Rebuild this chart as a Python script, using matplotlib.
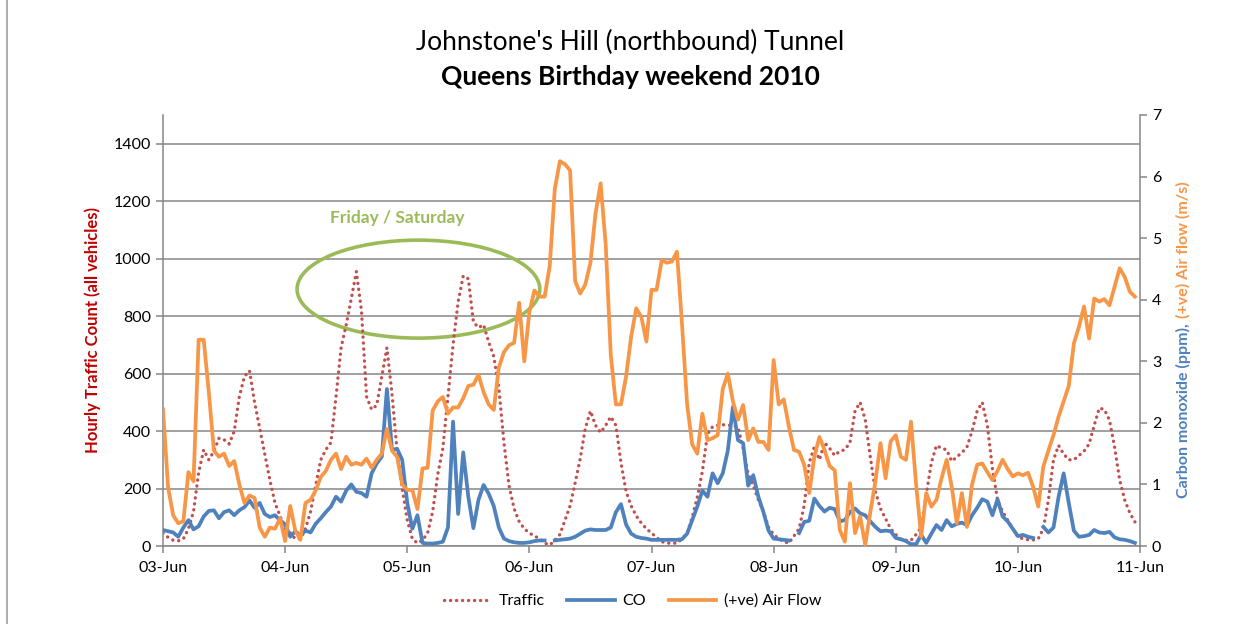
import matplotlib
matplotlib.use("Agg")
import matplotlib.pyplot as plt
import matplotlib.dates as mdates
from matplotlib.patches import Ellipse
from matplotlib.lines import Line2D
import numpy as np
import pandas as pd

nan = np.nan

# hourly readings, 03-Jun 00:00 .. 11-Jun 00:00
times = pd.date_range("2010-06-03", periods=193, freq="h")

traffic = [
    45, 30, 20, 18, 25, 60, 120, 255, 335, 300, 330, 375, 370, 355, 400, 520, 590, 610, 500, 410, 320, 230, 150, 105,
    60, 45, 25, 25, 60, 120, 210, 300, 335, 360, 520, 690, 770, 860, 955, 820, 520, 475, 490, 590, 690, 530, 330, 200,
    90, 25, 10, 20, 45, 120, 250, 340, 520, 700, 850, 940, 930, 780, 760, 770, 710, 660, 550, 360, 210, 130, 85, 60,
    45, 35, 25, 10, 3, 20, 40, 90, 140, 220, 305, 410, 470, 420, 395, 420, 450, 420, 290, 190, 140, 105, 80, 60,
    45, 30, 15, 10, 10, 10, 25, 45, 100, 170, 260, 390, 415, 420, 422, 421, 418, 414, 340, 250, 210, 160, 120, 65,
    40, 25, 15, 10, 35, 60, 140, 290, 345, 300, 360, 340, 315, 330, 335, 360, 470, 500, 440, 310, 190, 130, 95, 60,
    40, 22, 20, 20, 40, 65, 180, 290, 350, 340, 335, 295, 310, 325, 345, 400, 470, 500, 420, 270, 160, 120, 90, 60,
    32, 25, 22, 21, 25, 60, 160, 300, 350, 320, 300, 300, 315, 330, 355, 420, 480, 475, 438, 345, 230, 160, 115, 84,
    nan,
]

co = [
    0.26, 0.24, 0.22, 0.15, 0.30, 0.42, 0.27, 0.32, 0.48, 0.57, 0.58, 0.45, 0.55, 0.58, 0.50, 0.58, 0.63, 0.74, 0.62, 0.70, 0.52, 0.47, 0.50, 0.42,
    0.35, 0.15, 0.24, 0.17, 0.25, 0.22, 0.36, 0.45, 0.55, 0.64, 0.80, 0.72, 0.90, 1.00, 0.88, 0.86, 0.80, 1.18, 1.34, 1.45, 2.55, 1.56, 1.58, 1.40,
    0.70, 0.28, 0.50, 0.05, 0.04, 0.04, 0.05, 0.07, 0.30, 2.02, 0.52, 1.52, 0.80, 0.29, 0.75, 0.99, 0.85, 0.65, 0.30, 0.12, 0.08, 0.06, 0.05, 0.05,
    0.06, 0.08, 0.09, 0.09, nan, 0.09, 0.10, 0.11, 0.12, 0.15, 0.20, 0.25, 0.27, 0.26, 0.26, 0.26, 0.30, 0.55, 0.68, 0.35, 0.20, 0.15, 0.13, 0.12,
    0.10, 0.10, 0.10, 0.10, 0.10, 0.10, 0.11, 0.20, 0.42, 0.64, 0.90, 0.80, 1.18, 1.02, 1.18, 1.55, 2.26, 1.72, 1.67, 0.98, 1.15, 0.80, 0.55, 0.25,
    0.12, 0.11, 0.10, 0.09, nan, 0.21, 0.39, 0.41, 0.77, 0.65, 0.56, 0.62, 0.60, 0.40, 0.42, 0.55, 0.61, 0.53, 0.50, 0.40, 0.31, 0.24, 0.25, 0.24,
    0.13, 0.11, 0.08, 0.03, 0.03, 0.18, 0.05, 0.20, 0.34, 0.26, 0.42, 0.32, 0.36, 0.38, 0.34, 0.50, 0.62, 0.76, 0.72, 0.50, 0.76, 0.48, 0.40, 0.28,
    0.16, 0.18, 0.15, 0.13, nan, 0.31, 0.22, 0.30, 0.80, 1.18, 0.70, 0.25, 0.15, 0.16, 0.18, 0.26, 0.22, 0.21, 0.23, 0.14, 0.11, 0.10, 0.08, 0.05,
    nan,
]

airflow = [
    2.22, 0.95, 0.50, 0.37, 0.40, 1.20, 1.05, 3.35, 3.35, 2.50, 1.55, 1.45, 1.50, 1.30, 1.38, 1.00, 0.70, 0.82, 0.78, 0.30, 0.15, 0.30, 0.28, 0.45,
    0.08, 0.65, 0.25, 0.10, 0.70, 0.75, 0.90, 1.12, 1.22, 1.40, 1.50, 1.25, 1.45, 1.32, 1.35, 1.32, 1.42, 1.27, 1.40, 1.50, 1.90, 1.55, 1.45, 1.00,
    0.91, 0.91, 0.60, 1.26, 1.27, 2.20, 2.35, 2.42, 2.15, 2.25, 2.25, 2.40, 2.60, 2.62, 2.78, 2.50, 2.30, 2.21, 2.90, 3.15, 3.26, 3.30, 3.95, 3.00,
    3.80, 4.15, 4.05, 4.05, 4.55, 5.80, 6.25, 6.20, 6.10, 4.30, 4.10, 4.25, 4.60, 5.40, 5.89, 4.90, 3.10, 2.30, 2.30, 2.75, 3.40, 3.86, 3.72, 3.32,
    4.16, 4.16, 4.64, 4.60, 4.62, 4.78, 3.60, 2.30, 1.65, 1.50, 2.15, 1.72, 1.75, 1.80, 2.55, 2.80, 2.35, 2.05, 2.29, 1.72, 1.91, 1.69, 1.69, 1.56,
    3.02, 2.30, 2.38, 1.94, 1.56, 1.53, 1.32, 0.86, 1.45, 1.77, 1.56, 1.30, 1.23, 0.26, 0.07, 1.02, 0.21, 0.48, 0.02, 0.55, 1.05, 1.67, 1.10, 1.70,
    1.80, 1.45, 1.40, 2.02, 1.00, 0.15, 0.86, 0.64, 0.75, 1.10, 1.40, 0.96, 0.37, 0.86, 0.31, 1.00, 1.32, 1.34, 1.20, 1.07, 1.22, 1.40, 1.25, 1.13,
    1.18, 1.15, 1.19, 0.96, 0.64, 1.29, 1.55, 1.80, 2.10, 2.35, 2.60, 3.29, 3.56, 3.89, 3.37, 4.02, 3.97, 4.01, 3.91, 4.21, 4.51, 4.37, 4.13, 4.05,
    nan,
]

RED = "#C0504D"
BLUE = "#4F81BD"
ORANGE = "#F79646"
GREEN = "#9BBB59"
GRID = "#868686"
FONT = "Lato"

plt.rcParams["font.family"] = [FONT, "DejaVu Sans"]

fig = plt.figure(figsize=(12.5, 6.24), dpi=100)
ax = fig.add_axes([163 / 1250, 1 - 546 / 624, (1140 - 163) / 1250, (546 - 115) / 624])
ax2 = ax.twinx()

ln_t, = ax.plot(times, traffic, color=RED, lw=2.4, linestyle=(0, (0.05, 1.75)),
                dash_capstyle="round", label="Traffic")
ln_c, = ax2.plot(times, co, color=BLUE, lw=2.7, solid_joinstyle="round", label="CO")
ln_a, = ax2.plot(times, airflow, color=ORANGE, lw=2.7, solid_joinstyle="round", label="(+ve) Air Flow")

ax.set_ylim(0, 1500)
ax.set_yticks(range(0, 1401, 200))
ax2.set_ylim(0, 7)
ax2.set_yticks(range(0, 8))
ax.set_xlim(times[0], times[-1])
ax.xaxis.set_major_locator(mdates.DayLocator())
ax.xaxis.set_major_formatter(mdates.DateFormatter("%d-%b"))

ax.grid(axis="y", color=GRID, lw=1.1)
ax.set_axisbelow(True)
for a in (ax, ax2):
    a.spines["top"].set_visible(False)
    for s in ("left", "right", "bottom"):
        a.spines[s].set_color(GRID)
        a.spines[s].set_linewidth(1.1)
    a.tick_params(colors=GRID, labelcolor="black", labelsize=11.5, length=5, width=1.1, direction="out")
ax.spines["right"].set_visible(False)
ax2.spines["left"].set_visible(False)
ax2.spines["bottom"].set_visible(False)
ax.tick_params(axis="x", pad=6)

# Friday / Saturday annotation
ax.add_patch(Ellipse((times[50] + pd.Timedelta(minutes=12), 894), width=pd.Timedelta(hours=47.7) / pd.Timedelta(days=1),
                     height=341, fill=False, edgecolor=GREEN, lw=2.6,
                     transform=ax.transData))
ax.text(times[46], 1141, "Friday / Saturday", color=GREEN, fontsize=12.5, fontweight="bold",
        ha="center", va="center")

fig.text(0.504, 1 - 42 / 624, "Johnstone's Hill (northbound) Tunnel", ha="center", va="center", fontsize=19)
fig.text(0.504, 1 - 77 / 624, "Queens Birthday weekend 2010", ha="center", va="center", fontsize=19,
         fontweight="bold")

fig.text(93 / 1250, 1 - 330 / 624, "Hourly Traffic Count (all vehicles)", rotation=90, ha="center",
         va="center", color="#C00000", fontsize=12, fontweight="bold")

t1 = fig.text(1183 / 1250, 1 - 498 / 624, "Carbon monoxide (ppm),", rotation=90, rotation_mode="anchor",
              ha="left", va="center", color=BLUE, fontsize=11.5, fontweight="bold")
fig.canvas.draw()
bb = t1.get_window_extent(fig.canvas.get_renderer())
fig.text(1183 / 1250, (bb.y1 + 5) / fig.bbox.height, "(+ve) Air flow (m/s)", rotation=90, rotation_mode="anchor",
         ha="left", va="center", color=ORANGE, fontsize=11.5, fontweight="bold")

fig.legend(handles=[ln_t, ln_c, ln_a], loc="center", bbox_to_anchor=(0.506, 1 - 601 / 624), ncol=3,
           frameon=False, fontsize=11.5, handlelength=3.0, columnspacing=1.4, handletextpad=0.45)

# chart area border
fig.add_artist(Line2D([7 / 1250, 7 / 1250], [0, 1], color="#A0A0A0", lw=1.2))

fig.savefig("out.png", dpi=100)
